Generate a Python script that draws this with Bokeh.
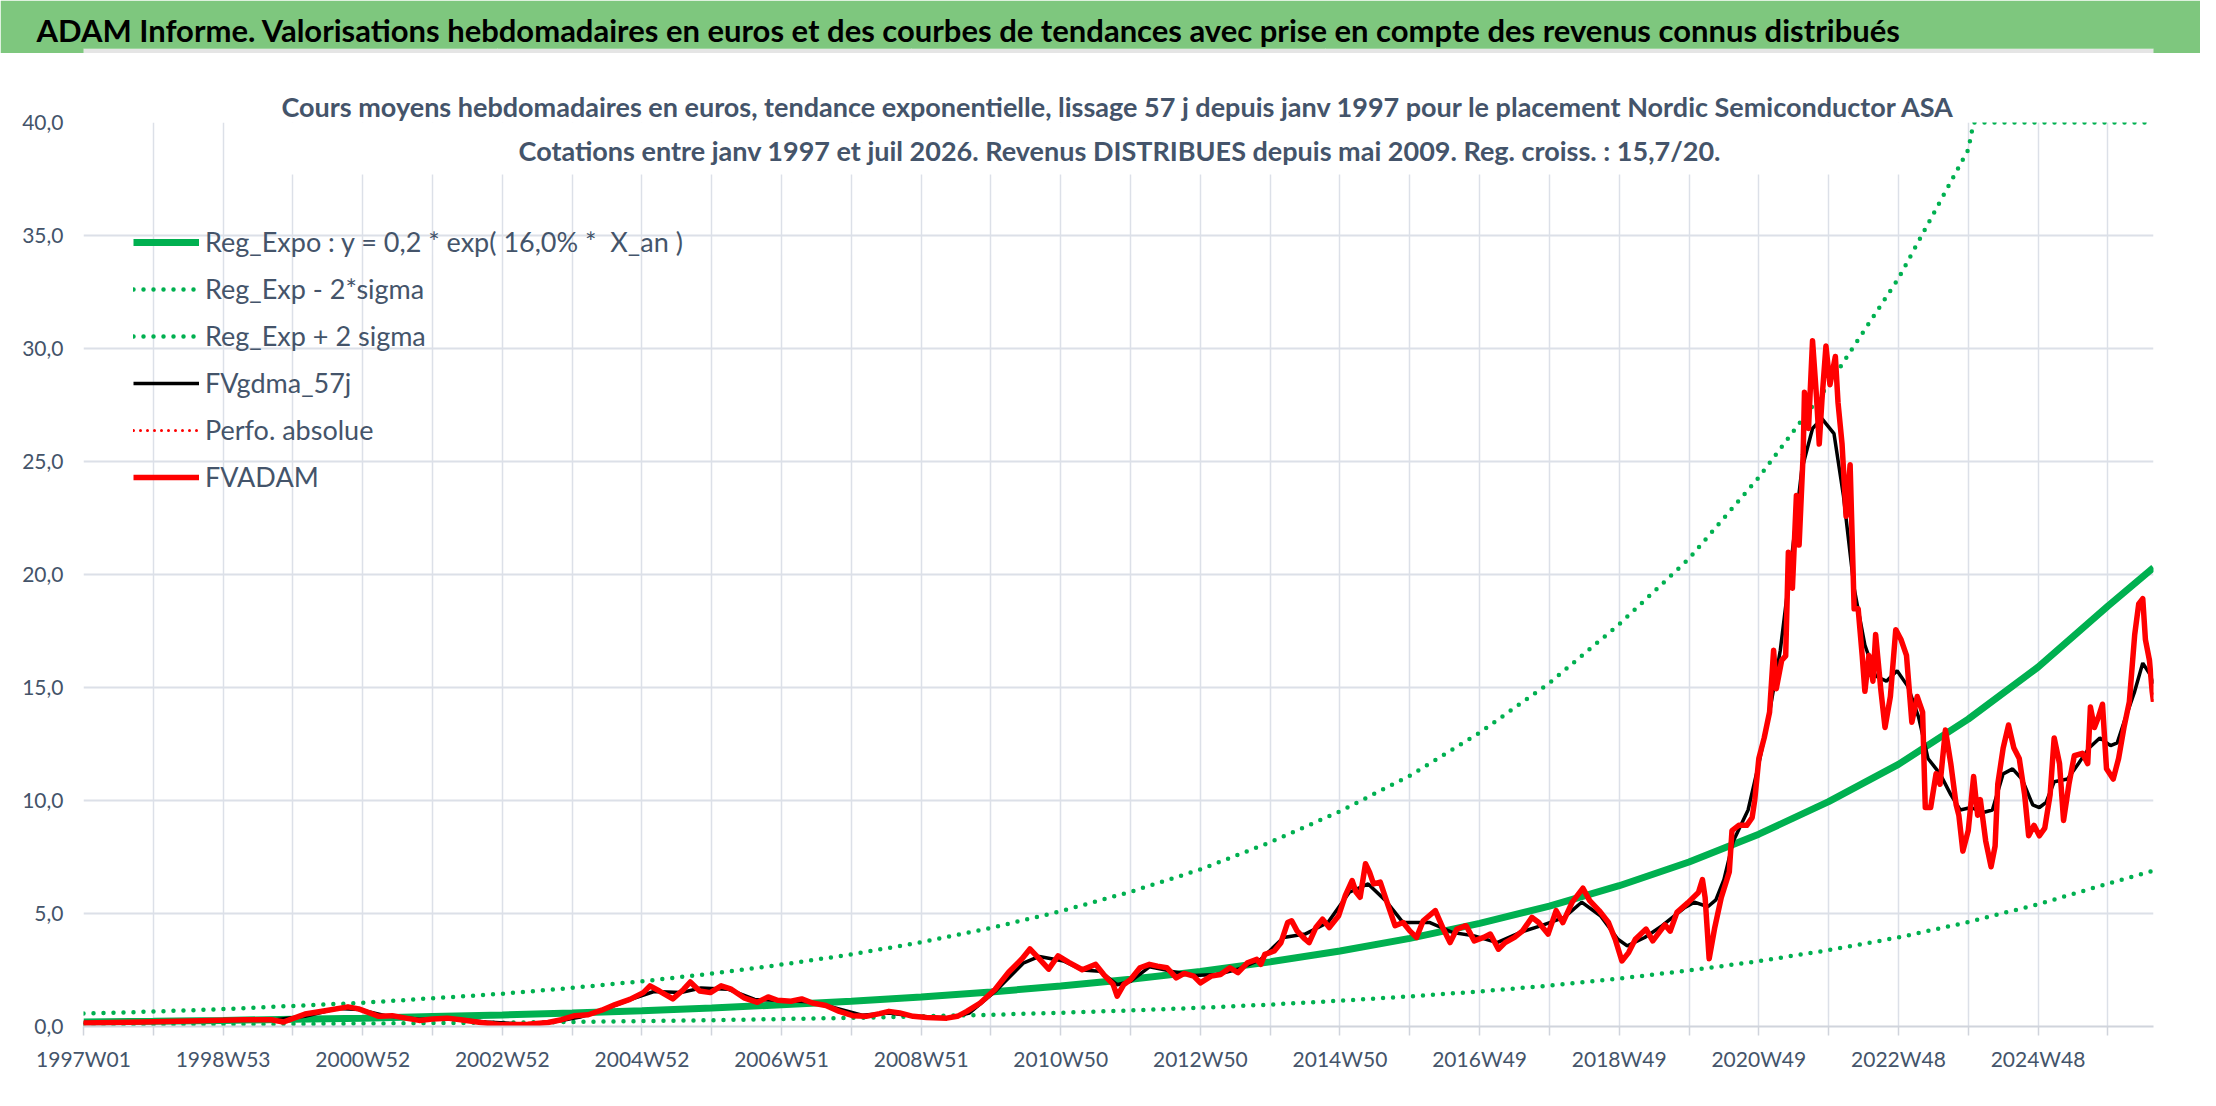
from bokeh.plotting import figure
from bokeh.models import Range1d, FixedTicker, Label, Legend, LegendItem, BoxAnnotation, Title
from bokeh.layouts import column
from bokeh.embed import file_html
from bokeh.resources import INLINE

HEADER = ("ADAM Informe. Valorisations hebdomadaires en euros et des courbes de tendances "
          "avec prise en compte des revenus connus distribués")
SUBTITLE_1 = ("Cours moyens hebdomadaires en euros, tendance exponentielle, lissage 57 j depuis "
              "janv 1997 pour le placement Nordic Semiconductor ASA")
SUBTITLE_2 = ("Cotations entre janv 1997 et juil 2026. Revenus DISTRIBUES depuis mai 2009. "
              "Reg. croiss. : 15,7/20.")

# category axis: one week per category, tick every 52 weeks, label every 104
N_WEEKS = 1542
TICK_WEEKS = list(range(0, 1509, 52))
LABEL_WEEKS = [0, 104, 208, 312, 416, 520, 624, 728, 832, 936, 1040, 1144, 1248, 1352, 1456]
TICK_LABELS = ["1997W01", "1998W53", "2000W52", "2002W52", "2004W52", "2006W51", "2008W51",
               "2010W50", "2012W50", "2014W50", "2016W49", "2018W49", "2020W49", "2022W48",
               "2024W48"]
Y_TICKS = [0, 5, 10, 15, 20, 25, 30, 35, 40]
Y_LABELS = ["0,0", "5,0", "10,0", "15,0", "20,0", "25,0", "30,0", "35,0", "40,0"]

# trend curves, read once a year
TREND_WEEKS = TICK_WEEKS + [1542]
TREND = [0.20, 0.23, 0.27, 0.32, 0.37, 0.44, 0.51, 0.60, 0.70, 0.82, 0.96, 1.12, 1.31, 1.53,
         1.79, 2.09, 2.44, 2.86, 3.34, 3.90, 4.56, 5.33, 6.23, 7.28, 8.51, 9.95, 11.6, 13.6,
         15.9, 18.6, 20.3]
LOWER = [0.07, 0.08, 0.09, 0.11, 0.13, 0.15, 0.17, 0.20, 0.24, 0.28, 0.33, 0.38, 0.45, 0.52,
         0.61, 0.71, 0.83, 0.97, 1.14, 1.33, 1.55, 1.81, 2.12, 2.48, 2.89, 3.38, 3.94, 4.62,
         5.41, 6.32, 6.9]
UPPER_WEEKS = list(range(0, 1405, 52)) + [1408, 1456, 1508, 1542]
UPPER = [0.57, 0.66, 0.77, 0.91, 1.05, 1.25, 1.45, 1.71, 2.0, 2.34, 2.74, 3.19, 3.73, 4.36,
         5.1, 5.96, 6.95, 8.15, 9.52, 11.1, 13.0, 15.2, 17.8, 20.7, 24.3, 28.4, 33.1, 38.8,
         40.0, 40.0, 40.0, 40.0]

# FVgdma_57j (smoothed)
SMOOTH_WEEKS = [0, 50, 100, 140, 165, 190, 205, 225, 250, 275, 300, 330, 350, 370, 390, 410,
                425, 445, 460, 480, 500, 520, 540, 560, 580, 600, 620, 645, 660, 680, 700, 712,
                730, 744, 757, 770, 780, 794, 810, 827, 844, 860, 877, 894, 910, 927, 943, 957,
                970, 983, 1003, 1020, 1036, 1053, 1070, 1086, 1103, 1116, 1130, 1143, 1150,
                1163, 1176, 1193, 1200, 1210, 1216, 1222, 1229, 1240, 1248, 1256, 1264, 1272,
                1280, 1288, 1295, 1304, 1311, 1319, 1327, 1335, 1343, 1351, 1359, 1367, 1374,
                1383, 1391, 1398, 1406, 1415, 1422, 1430, 1437, 1444, 1452, 1457, 1462, 1468,
                1478, 1486, 1494, 1502, 1510, 1515, 1520, 1528, 1534, 1539, 1542]
SMOOTH = [0.18, 0.2, 0.27, 0.28, 0.45, 0.8, 0.75, 0.48, 0.32, 0.33, 0.2, 0.1, 0.2, 0.42, 0.8,
          1.25, 1.55, 1.5, 1.7, 1.65, 1.2, 1.15, 1.1, 0.82, 0.5, 0.6, 0.45, 0.38, 0.6, 1.6, 2.8,
          3.1, 2.9, 2.5, 2.45, 1.85, 2.0, 2.64, 2.45, 2.26, 2.3, 2.53, 2.97, 3.94, 4.09, 4.6,
          5.94, 6.31, 5.57, 4.6, 4.6, 4.16, 4.01, 3.71, 4.16, 4.46, 4.83, 5.5, 4.9, 3.86, 3.57,
          3.94, 4.46, 5.27, 5.5, 5.3, 5.6, 6.5, 8.21, 9.58, 11.63, 13.91, 16.65, 20.53, 24.64,
          26.46, 26.9, 26.23, 23.5, 19.39, 16.88, 15.51, 15.28, 15.74, 15.05, 13.69, 11.86,
          11.18, 10.26, 9.58, 9.69, 9.47, 9.58, 11.18, 11.4, 10.95, 9.81, 9.69, 9.92, 10.83,
          10.95, 11.63, 12.32, 12.77, 12.43, 12.55, 13.46, 14.83, 16.08, 15.62, 15.17]

# FVADAM (weekly valuation)
FVADAM_WEEKS = [0, 44, 79, 119, 140, 149, 165, 180, 197, 205, 220, 230, 240, 250, 260, 271,
                281, 296, 311, 331, 346, 356, 366, 376, 386, 396, 407, 417, 422, 429, 439, 447,
                452, 459, 467, 475, 482, 492, 502, 510, 517, 527, 535, 543, 553, 563, 573, 583,
                593, 600, 608, 618, 628, 643, 651, 658, 668, 679, 689, 699, 705, 711, 719, 726,
                734, 744, 754, 760, 767, 770, 775, 780, 787, 794, 800, 807, 814, 820, 827, 832,
                840, 847, 854, 860, 867, 874, 877, 880, 887, 892, 897, 900, 904, 910, 913, 918,
                923, 928, 935, 940, 945, 948, 951, 955, 958, 961, 966, 971, 977, 983, 988, 993,
                998, 1007, 1013, 1018, 1023, 1030, 1036, 1043, 1048, 1054, 1059, 1066, 1072,
                1079, 1084, 1091, 1097, 1102, 1109, 1117, 1122, 1129, 1136, 1141, 1146, 1151,
                1156, 1164, 1169, 1178, 1182, 1187, 1195, 1203, 1206, 1208, 1211, 1215, 1220,
                1226, 1228, 1233, 1239, 1243, 1245, 1248, 1252, 1256, 1259, 1261, 1265, 1268,
                1270, 1273, 1276, 1278, 1281, 1282, 1285, 1288, 1291, 1293, 1295, 1298, 1301,
                1305, 1307, 1310, 1313, 1316, 1319, 1322, 1325, 1327, 1330, 1333, 1335, 1339,
                1342, 1346, 1350, 1354, 1358, 1362, 1366, 1370, 1372, 1376, 1380, 1383, 1387,
                1391, 1395, 1397, 1400, 1404, 1408, 1411, 1413, 1417, 1421, 1424, 1426, 1430,
                1434, 1438, 1442, 1446, 1449, 1453, 1457, 1461, 1465, 1468, 1472, 1475, 1479,
                1483, 1489, 1493, 1495, 1498, 1501, 1504, 1507, 1512, 1516, 1520, 1524, 1528,
                1531, 1534, 1536, 1539, 1541, 1542]
FVADAM = [0.15, 0.2, 0.24, 0.3, 0.3, 0.2, 0.55, 0.7, 0.87, 0.78, 0.45, 0.48, 0.37, 0.27, 0.33,
          0.37, 0.3, 0.18, 0.08, 0.1, 0.18, 0.3, 0.48, 0.52, 0.72, 0.97, 1.2, 1.5, 1.8, 1.57,
          1.22, 1.64, 1.97, 1.57, 1.5, 1.8, 1.67, 1.27, 1.07, 1.31, 1.16, 1.12, 1.22, 1.04,
          0.93, 0.67, 0.48, 0.45, 0.57, 0.67, 0.6, 0.45, 0.4, 0.37, 0.45, 0.67, 1.04, 1.64,
          2.39, 2.99, 3.43, 3.06, 2.54, 3.13, 2.84, 2.51, 2.75, 2.3, 1.86, 1.34, 1.86, 2.08,
          2.6, 2.75, 2.67, 2.6, 2.15, 2.35, 2.23, 1.93, 2.23, 2.3, 2.6, 2.38, 2.82, 2.97, 2.75,
          3.19, 3.34, 3.71, 4.6, 4.68, 4.23, 3.86, 3.71, 4.38, 4.75, 4.38, 4.9, 5.8, 6.46, 5.94,
          5.72, 7.2, 6.83, 6.31, 6.39, 5.5, 4.46, 4.6, 4.23, 3.94, 4.68, 5.13, 4.31, 3.71, 4.31,
          4.46, 3.79, 3.94, 4.09, 3.42, 3.71, 3.94, 4.23, 4.83, 4.6, 4.09, 5.13, 4.6, 5.5, 6.12,
          5.57, 5.13, 4.6, 3.86, 2.9, 3.27, 3.86, 4.31, 3.79, 4.5, 4.22, 5.05, 5.47, 5.93, 6.5,
          5.7, 3.0, 4.33, 5.7, 6.84, 8.67, 8.9, 8.9, 9.24, 10.04, 11.86, 12.77, 13.91, 16.65,
          14.94, 16.2, 16.4, 20.99, 19.39, 23.5, 21.3, 25.3, 28.06, 26.46, 30.34, 27.83, 25.77,
          27.71, 30.11, 28.4, 29.65, 27.6, 25.77, 22.58, 24.86, 18.48, 18.48, 16.42, 14.83,
          16.42, 15.28, 17.34, 14.83, 13.23, 14.6, 17.56, 17.11, 16.42, 13.46, 14.6, 13.91,
          9.69, 9.69, 11.18, 10.72, 13.12, 11.63, 9.81, 9.35, 7.76, 8.67, 11.06, 9.35, 10.04,
          8.21, 7.07, 7.98, 10.72, 12.32, 13.34, 12.32, 11.86, 10.26, 8.44, 8.9, 8.44, 8.78,
          10.26, 12.77, 11.63, 9.12, 10.72, 11.98, 12.09, 11.63, 14.14, 13.23, 13.69, 14.26,
          11.4, 10.95, 11.86, 13.23, 14.37, 17.34, 18.7, 18.93, 17.11, 16.2, 14.83, 14.37]

FONT = "Lato"
TEXT = "#44546A"
GREEN_BAND = "#7EC77E"
GREEN = "#00B050"
RED = "#FF0000"
GRID = "#DCE0E8"

# header band (its frame lines up with the chart frame below, so the text sits in a title)
head = figure(width=2200, height=53, x_range=Range1d(0, 1), y_range=Range1d(0, 1),
              toolbar_location=None, output_backend="svg", x_axis_location=None,
              y_axis_location=None, min_border_left=83, min_border_right=47,
              min_border_top=48, min_border_bottom=0, background_fill_color=GREEN_BAND,
              border_fill_color=GREEN_BAND, outline_line_color=None)
head.title = Title(text=HEADER, align="left", offset=-47, standoff=0, text_font=FONT,
                   text_font_size="31px", text_font_style="bold", text_color="black")

p = figure(width=2200, height=1037, x_range=Range1d(0, N_WEEKS), y_range=Range1d(0, 40),
           toolbar_location=None, output_backend="svg", min_border_left=83,
           min_border_right=47, min_border_top=69, min_border_bottom=64,
           background_fill_color="white", border_fill_color="white", outline_line_color=None)
p.title = Title(text=SUBTITLE_1, align="center", offset=-17, standoff=0, text_font=FONT,
                text_font_size="27px", text_font_style="bold", text_color=TEXT)

p.xaxis.ticker = FixedTicker(ticks=TICK_WEEKS)
p.xgrid.ticker = FixedTicker(ticks=TICK_WEEKS)
p.xaxis.major_label_overrides = {w: (TICK_LABELS[LABEL_WEEKS.index(w)] if w in LABEL_WEEKS else "")
                                 for w in TICK_WEEKS}
p.yaxis.ticker = FixedTicker(ticks=Y_TICKS)
p.ygrid.ticker = FixedTicker(ticks=Y_TICKS)
p.yaxis.major_label_overrides = dict(zip(Y_TICKS, Y_LABELS))

p.xgrid.grid_line_color = GRID
p.xgrid.grid_line_width = 1.5
p.ygrid.grid_line_color = GRID
p.ygrid.grid_line_width = 2

p.yaxis.axis_line_color = None
p.yaxis.major_tick_line_color = None
p.yaxis.minor_tick_line_color = None
p.yaxis.major_tick_out = 0
p.yaxis.major_label_standoff = 20
p.xaxis.axis_line_color = "#D0D4DC"
p.xaxis.axis_line_width = 2
p.xaxis.major_tick_line_color = "#D0D4DC"
p.xaxis.major_tick_line_width = 1.5
p.xaxis.major_tick_out = 9
p.xaxis.major_tick_in = 0
p.xaxis.minor_tick_line_color = None
p.xaxis.major_label_standoff = 10
for ax in (p.xaxis, p.yaxis):
    ax.major_label_text_font = FONT
    ax.major_label_text_font_size = "21px"
    ax.major_label_text_color = TEXT

r_trend = p.line(TREND_WEEKS, TREND, color=GREEN, line_width=7)
r_low = p.line(TREND_WEEKS, LOWER, color=GREEN, line_width=4.5, line_dash="0 10",
               line_cap="round")
r_up = p.line(UPPER_WEEKS, UPPER, color=GREEN, line_width=4.5, line_dash="0 10",
              line_cap="round")
r_smooth = p.line(SMOOTH_WEEKS, SMOOTH, color="black", line_width=3.5)
# absolute performance coincides with FVADAM and stays hidden under it
r_perf = p.line(FVADAM_WEEKS, FVADAM, color=RED, line_width=3, line_dash="0 7",
                line_cap="round")
r_adam = p.line(FVADAM_WEEKS, FVADAM, color=RED, line_width=5.5, line_join="round")

# white box behind the chart title
p.add_layout(BoxAnnotation(left=135, right=1385, bottom=37.7, top=40.3, fill_color="white",
                           fill_alpha=1, line_color=None))
p.add_layout(Label(x=772, y=38.76, text=SUBTITLE_2, text_align="center",
                   text_baseline="middle", text_font=FONT, text_font_size="27px",
                   text_font_style="bold", text_color=TEXT))

legend = Legend(items=[
    LegendItem(label="Reg_Expo : y = 0,2 * exp( 16,0% *  X_an )", renderers=[r_trend]),
    LegendItem(label="Reg_Exp - 2*sigma", renderers=[r_low]),
    LegendItem(label="Reg_Exp + 2 sigma", renderers=[r_up]),
    LegendItem(label="FVgdma_57j", renderers=[r_smooth]),
    LegendItem(label="Perfo. absolue", renderers=[r_perf]),
    LegendItem(label="FVADAM", renderers=[r_adam]),
], location=(50, 533), orientation="vertical", glyph_width=66, glyph_height=32,
    label_height=32, spacing=14, padding=10, margin=0, label_standoff=6,
    label_text_font=FONT, label_text_font_size="27px", label_text_color=TEXT,
    background_fill_alpha=0, border_line_color=None)
p.add_layout(legend)

layout = column(head, p, spacing=0)
open("out.html", "w").write(file_html(layout, INLINE))
